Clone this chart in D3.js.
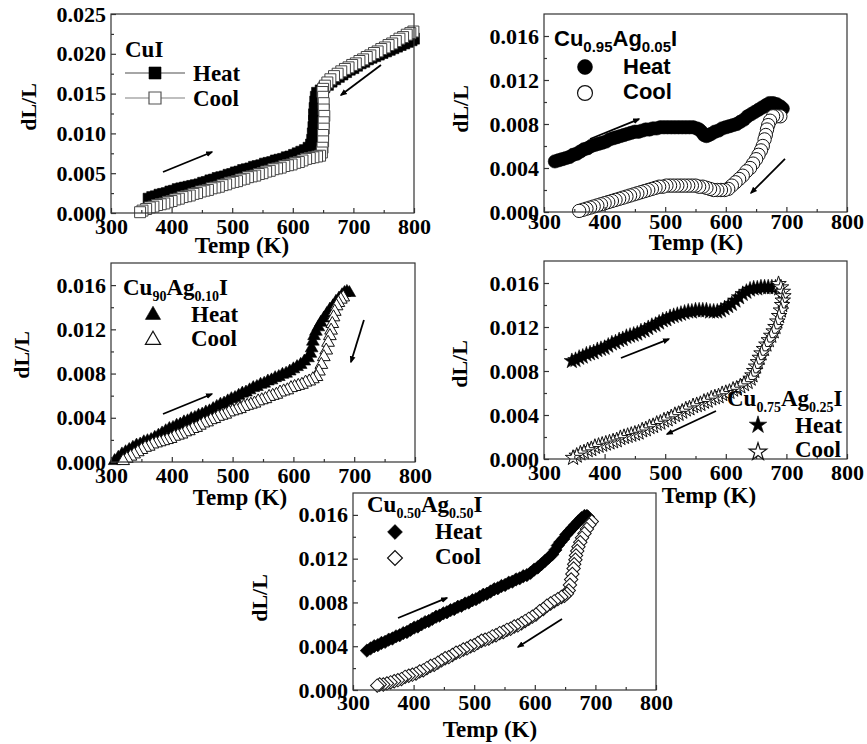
<!DOCTYPE html>
<html><head><meta charset="utf-8">
<script src="https://cdn.jsdelivr.net/npm/d3@7"></script>
<style>
html,body{margin:0;padding:0;background:#fff;}
svg{display:block;}
</style></head><body>
<svg id="fig" width="867" height="744"></svg>
<script>
// ---- data: [Temp (K), dL/L] ----
const tempTicks = [300,400,500,600,700,800];
const tempMinor = [350,450,550,650,750];
const cuiTicks  = [0,0.005,0.010,0.015,0.020,0.025];
const cuiMinor  = [0.0025,0.0075,0.0125,0.0175,0.0225];
const agTicks   = [0,0.004,0.008,0.012,0.016];
const agMinor   = [0.002,0.006,0.010,0.014];

const cuiHeat = [[362,.0018],[368,.0020],[374,.0021],[380,.0023],[386,.0024],[392,.0025],[398,.0027],[404,.0028],[410,.0030],[416,.0031],[422,.0032],[428,.0033],[434,.0034],[440,.0035],[446,.0036],[452,.0038],[458,.0039],[464,.0041],[470,.0042],[476,.0044],[482,.0045],[488,.0046],[494,.0048],[500,.0049],[506,.0051],[512,.0052],[518,.0054],[524,.0055],[530,.0056],[536,.0058],[542,.0059],[548,.0060],[554,.0062],[560,.0063],[566,.0064],[572,.0066],[578,.0067],[584,.0068],[590,.0070],[596,.0071],[602,.0073],[608,.0075],[614,.0077],[620,.0079],[626,.0082],[630,.0086],[632,.0092],[633,.0100],[634,.0108],[635,.0116],[635,.0124],[636,.0132],[637,.0140],[638,.0146],[640,.0151],[646,.0154],[652,.0158],[658,.0161],[664,.0165],[670,.0168],[676,.0171],[682,.0174],[688,.0177],[694,.0180],[700,.0182],[706,.0185],[712,.0188],[718,.0190],[724,.0193],[730,.0195],[736,.0197],[742,.0199],[748,.0201],[754,.0203],[760,.0205],[766,.0207],[772,.0209],[778,.0211],[784,.0213],[790,.0215],[796,.0217],[800,.0219]];
const cuiCool = [[799,.0228],[794,.0226],[788,.0224],[782,.0221],[776,.0219],[770,.0216],[764,.0213],[758,.0211],[752,.0208],[746,.0206],[740,.0203],[734,.0201],[728,.0198],[722,.0196],[716,.0193],[710,.0191],[704,.0188],[698,.0186],[692,.0183],[686,.0181],[680,.0178],[674,.0175],[668,.0172],[662,.0168],[657,.0164],[653,.0160],[650,.0156],[649,.0152],[650,.0146],[651,.0138],[651,.0130],[652,.0122],[651,.0114],[651,.0106],[650,.0098],[650,.0090],[649,.0082],[648,.0076],[645,.0072],[640,.0071],[634,.0070],[628,.0069],[622,.0068],[616,.0066],[610,.0064],[604,.0063],[598,.0061],[592,.0060],[586,.0059],[580,.0057],[574,.0056],[568,.0055],[562,.0053],[556,.0052],[550,.0050],[544,.0049],[538,.0047],[532,.0046],[526,.0045],[520,.0043],[514,.0042],[508,.0040],[502,.0039],[496,.0038],[490,.0036],[484,.0035],[478,.0033],[472,.0032],[466,.0031],[460,.0029],[454,.0028],[448,.0027],[442,.0025],[436,.0024],[430,.0022],[424,.0021],[418,.0020],[412,.0018],[406,.0017],[400,.0015],[394,.0014],[388,.0012],[382,.0011],[376,.0010],[370,.0008],[364,.0007],[358,.0005],[352,.0003],[348,.0001]];

const ag05Heat = [[318,.0046],[324,.0047],[330,.0048],[336,.0049],[342,.0050],[348,.0052],[354,.0053],[360,.0055],[366,.0057],[372,.0058],[378,.0060],[384,.0061],[390,.0062],[396,.0063],[402,.0064],[408,.0066],[414,.0067],[420,.0068],[426,.0069],[432,.0070],[438,.0071],[444,.0072],[450,.0073],[456,.0073],[462,.0074],[468,.0075],[474,.0075],[480,.0076],[486,.0076],[492,.0077],[498,.0077],[504,.0077],[510,.0077],[516,.0077],[522,.0077],[528,.0077],[534,.0077],[540,.0077],[546,.0077],[552,.0076],[556,.0075],[560,.0073],[564,.0070],[568,.0069],[572,.0070],[576,.0071],[582,.0073],[588,.0074],[594,.0076],[600,.0077],[606,.0078],[612,.0079],[618,.0080],[624,.0082],[630,.0084],[636,.0087],[642,.0089],[648,.0091],[654,.0093],[660,.0095],[666,.0097],[672,.0099],[678,.0099],[684,.0098],[690,.0096],[694,.0094]];
const ag05Cool = [[690,.0087],[684,.0087],[678,.0087],[673,.0083],[670,.0079],[668,.0075],[666,.0070],[664,.0066],[661,.0060],[658,.0056],[654,.0052],[650,.0048],[645,.0044],[640,.0040],[634,.0037],[628,.0033],[622,.0030],[616,.0027],[610,.0024],[604,.0021],[598,.0020],[592,.0020],[586,.0020],[580,.0020],[574,.0021],[568,.0022],[562,.0023],[556,.0023],[550,.0024],[544,.0024],[538,.0024],[532,.0024],[526,.0024],[520,.0024],[514,.0024],[508,.0024],[502,.0024],[496,.0023],[490,.0023],[484,.0022],[478,.0021],[472,.0020],[466,.0019],[460,.0018],[454,.0017],[448,.0016],[442,.0015],[436,.0014],[430,.0013],[424,.0012],[418,.0011],[412,.0010],[406,.0009],[400,.0008],[394,.0007],[388,.0006],[382,.0005],[376,.0004],[370,.0003],[364,.0002],[358,.0001]];

const ag10Heat = [[306,.0001],[312,.0004],[318,.0007],[324,.0009],[330,.0011],[336,.0013],[342,.0015],[348,.0016],[354,.0018],[360,.0019],[366,.0020],[372,.0022],[378,.0024],[384,.0026],[390,.0028],[396,.0030],[402,.0031],[408,.0033],[414,.0034],[420,.0036],[426,.0037],[432,.0039],[438,.0040],[444,.0042],[450,.0043],[456,.0045],[462,.0046],[468,.0048],[474,.0050],[480,.0052],[486,.0053],[492,.0055],[498,.0057],[504,.0058],[510,.0060],[516,.0062],[522,.0063],[528,.0065],[534,.0067],[540,.0068],[546,.0070],[552,.0071],[558,.0073],[564,.0074],[570,.0076],[576,.0077],[582,.0079],[588,.0080],[594,.0082],[600,.0084],[606,.0086],[612,.0088],[618,.0091],[624,.0094],[628,.0098],[630,.0103],[632,.0109],[634,.0114],[637,.0118],[641,.0122],[645,.0126],[650,.0130],[655,.0134],[660,.0138],[665,.0141],[670,.0145],[675,.0148],[680,.0151],[684,.0153],[688,.0154],[692,.0153]];
const ag10Cool = [[682,.0149],[678,.0147],[674,.0144],[671,.0141],[668,.0136],[666,.0131],[664,.0125],[662,.0119],[660,.0114],[657,.0108],[654,.0101],[650,.0095],[646,.0088],[642,.0082],[638,.0077],[632,.0075],[626,.0073],[620,.0072],[614,.0070],[608,.0069],[602,.0068],[596,.0067],[590,.0065],[584,.0064],[578,.0063],[572,.0061],[566,.0060],[560,.0059],[554,.0057],[548,.0056],[542,.0055],[536,.0053],[530,.0052],[524,.0051],[518,.0050],[512,.0048],[506,.0047],[500,.0046],[494,.0045],[488,.0043],[482,.0042],[476,.0041],[470,.0039],[464,.0038],[458,.0036],[452,.0035],[446,.0033],[440,.0031],[434,.0030],[428,.0028],[422,.0027],[416,.0025],[410,.0024],[404,.0023],[398,.0021],[392,.0020],[386,.0019],[380,.0018],[374,.0017],[368,.0016],[362,.0014],[356,.0013],[350,.0011],[344,.0009],[338,.0007],[332,.0005],[326,.0003],[320,.0001]];

const ag25Heat = [[346,.0089],[352,.0090],[358,.0092],[364,.0093],[370,.0095],[376,.0096],[382,.0097],[388,.0099],[394,.0100],[400,.0101],[406,.0103],[412,.0105],[418,.0106],[424,.0108],[430,.0109],[436,.0111],[442,.0112],[448,.0113],[454,.0114],[460,.0116],[466,.0117],[472,.0119],[478,.0121],[484,.0122],[490,.0124],[496,.0126],[502,.0127],[508,.0129],[514,.0130],[520,.0131],[526,.0132],[532,.0133],[538,.0134],[544,.0134],[550,.0135],[556,.0135],[562,.0135],[568,.0135],[574,.0134],[580,.0134],[586,.0134],[592,.0135],[598,.0137],[604,.0139],[610,.0141],[616,.0144],[622,.0147],[628,.0150],[634,.0152],[640,.0154],[646,.0155],[652,.0155],[658,.0156],[664,.0156],[670,.0156],[676,.0156],[682,.0156],[688,.0155]];
const ag25Cool = [[687,.0159],[691,.0156],[694,.0152],[695,.0148],[694,.0144],[693,.0140],[691,.0135],[688,.0130],[685,.0125],[682,.0120],[679,.0116],[675,.0112],[671,.0108],[667,.0104],[663,.0100],[659,.0096],[656,.0092],[653,.0088],[650,.0084],[647,.0080],[644,.0076],[641,.0073],[636,.0070],[630,.0068],[624,.0066],[618,.0064],[612,.0063],[606,.0061],[600,.0060],[594,.0059],[588,.0057],[582,.0056],[576,.0055],[570,.0053],[564,.0052],[558,.0050],[552,.0049],[546,.0048],[540,.0046],[534,.0045],[528,.0043],[522,.0041],[516,.0040],[510,.0038],[504,.0036],[498,.0035],[492,.0033],[486,.0032],[480,.0030],[474,.0029],[468,.0027],[462,.0026],[456,.0024],[450,.0023],[444,.0022],[438,.0021],[432,.0020],[426,.0019],[420,.0017],[414,.0016],[408,.0015],[402,.0014],[396,.0013],[390,.0012],[384,.0011],[378,.0009],[372,.0008],[366,.0006],[360,.0005],[354,.0003],[348,.0001]];

const ag50Heat = [[323,.0036],[329,.0038],[335,.0040],[341,.0041],[347,.0043],[353,.0044],[359,.0046],[365,.0047],[371,.0049],[377,.0050],[383,.0052],[389,.0053],[395,.0055],[401,.0057],[407,.0058],[413,.0060],[419,.0062],[425,.0063],[431,.0065],[437,.0067],[443,.0068],[449,.0070],[455,.0071],[461,.0073],[467,.0074],[473,.0076],[479,.0077],[485,.0079],[491,.0080],[497,.0082],[503,.0083],[509,.0085],[515,.0087],[521,.0088],[527,.0090],[533,.0092],[539,.0093],[545,.0095],[551,.0096],[557,.0098],[563,.0099],[569,.0101],[575,.0102],[581,.0104],[587,.0105],[593,.0107],[599,.0110],[605,.0112],[611,.0115],[617,.0118],[623,.0121],[629,.0124],[634,.0128],[638,.0132],[642,.0135],[647,.0138],[652,.0142],[657,.0145],[662,.0148],[667,.0151],[672,.0154],[677,.0157],[682,.0159],[686,.0159],[688,.0158]];
const ag50Cool = [[694,.0154],[690,.0151],[686,.0147],[682,.0143],[678,.0139],[675,.0135],[672,.0131],[670,.0127],[668,.0123],[667,.0119],[665,.0115],[664,.0111],[662,.0106],[660,.0101],[658,.0096],[656,.0091],[653,.0088],[649,.0086],[644,.0085],[638,.0083],[632,.0081],[626,.0079],[620,.0077],[614,.0074],[608,.0072],[602,.0069],[596,.0067],[590,.0065],[584,.0063],[578,.0061],[572,.0059],[566,.0058],[560,.0056],[554,.0055],[548,.0053],[542,.0052],[536,.0050],[530,.0049],[524,.0047],[518,.0046],[512,.0045],[506,.0043],[500,.0041],[494,.0040],[488,.0038],[482,.0037],[476,.0035],[470,.0034],[464,.0032],[458,.0030],[452,.0029],[446,.0027],[440,.0025],[434,.0023],[428,.0022],[422,.0020],[416,.0018],[410,.0017],[404,.0015],[398,.0014],[392,.0013],[386,.0012],[380,.0010],[374,.0009],[368,.0008],[362,.0007],[356,.0006],[350,.0005],[344,.0005],[340,.0004]];

// ---- layout / styling per panel ----
const SERIF = '"Liberation Serif","Times New Roman",Times,serif';
const SANS  = '"Liberation Sans",Arial,Helvetica,sans-serif';

const panels = [
  { box:[111,14,414,213], yMax:0.025, yTicks:cuiTicks, yMinor:cuiMinor, heat:cuiHeat, cool:cuiCool,
    sym:'square', size:120, legSize:144, withLine:true, xPad:5,
    yTitle:[28,107], xTitle:[242,253],
    label:{x:125,y:57,parts:[['CuI',0]]}, legX:155, legTextX:193, legY:[73,98], legBase:[81,106],
    arrows:[[[385.8,.00515],[466.7,.00766]],[[745.5,.01859],[679.5,.01482]]] },
  { box:[544,14,847,212], yMax:0.018, yTicks:agTicks, yMinor:agMinor, heat:ag05Heat, cool:ag05Cool,
    sym:'circle', size:140, legSize:175, sans:true, xPad:1,
    yTitle:[460,109], xTitle:[696,250],
    label:{x:554,y:46,parts:[['Cu',0],['0.95',1],['Ag',0],['0.05',1],['I',0]]}, legX:585, legTextX:623, legY:[67,93], legBase:[74,99],
    arrows:[[[375.9,.00664],[456.8,.00845]],[[697.7,.00482],[641.6,.00173]]] },
  { box:[111,263,415,462], yMax:0.018, yTicks:agTicks, yMinor:agMinor, heat:ag10Heat, cool:ag10Cool,
    sym:'triangle', size:70, legSize:100, xPad:5,
    yTitle:[21,355], xTitle:[240,505],
    label:{x:123,y:295,parts:[['Cu',0],['90',1],['Ag',0],['0.10',1],['I',0]]}, legX:153, legTextX:191, legY:[315,340], legBase:[322,346],
    arrows:[[[385.5,.00434],[466,.00615]],[[716,.01284],[694.7,.00904]]] },
  { box:[544,261,847,459], yMax:0.018, yTicks:agTicks, yMinor:agMinor, heat:ag25Heat, cool:ag25Cool,
    sym:'star', size:75, legSize:95, xPad:5,
    yTitle:[459,364], xTitle:[709,503],
    label:{x:727,y:406,parts:[['Cu',0],['0.75',1],['Ag',0],['0.25',1],['I',0]]}, legX:758, legTextX:795, legY:[425,452], legBase:[433,457],
    arrows:[[[427,.00918],[506,.0109]],[[583.8,.00436],[503,.00227]]] },
  { box:[353,493,656,690], yMax:0.018, yTicks:agTicks, yMinor:agMinor, heat:ag50Heat, cool:ag50Cool,
    sym:'diamond', size:90, legSize:110, xPad:4,
    yTitle:[259,598], xTitle:[490,737],
    label:{x:367,y:512,parts:[['Cu',0],['0.50',1],['Ag',0],['0.50',1],['I',0]]}, legX:395, legTextX:435, legY:[532,558], legBase:[539,564],
    arrows:[[[374.3,.00658],[455.1,.00841]],[[644.9,.00649],[572.3,.00393]]] }
];

const svg = d3.select('#fig');
svg.append('rect').attr('width',867).attr('height',744).attr('fill','#fff');
svg.append('defs').append('marker')
  .attr('id','ah').attr('viewBox','0 0 10 10').attr('refX',8).attr('refY',5)
  .attr('markerWidth',4).attr('markerHeight',4).attr('orient','auto')
  .append('path').attr('d','M0,1L10,5L0,9Z').attr('fill','#000');

const symTypes = {square:d3.symbolSquare, circle:d3.symbolCircle, triangle:d3.symbolTriangle, star:d3.symbolStar, diamond:d3.symbolSquare};
function symbolPath(kind, size){ return d3.symbol().type(symTypes[kind]).size(size)(); }
function symRot(kind){ return kind==='diamond' ? ' rotate(45)' : ''; }

function txt(sel, size, sans){
  return sel.attr('font-family', sans ? SANS : SERIF).attr('font-weight','bold')
    .attr('font-size', size).attr('fill','#000');
}

function drawMarkers(g, data, p, x, y, filled){
  g.append('g').selectAll('path').data(data).join('path')
    .attr('d', symbolPath(p.sym, p.size))
    .attr('transform', d=>`translate(${x(d[0])},${y(d[1])})${symRot(p.sym)}`)
    .attr('fill', filled ? '#000' : '#fff')
    .attr('stroke', filled ? '#000' : (p.withLine ? '#444' : '#111'))
    .attr('stroke-width', filled ? 0.6 : 1);
}

function drawPanel(p){
  const [x0,y0,x1,y1] = p.box;
  const g = svg.append('g');
  const x = d3.scaleLinear().domain([300,800]).range([x0,x1]);
  const y = d3.scaleLinear().domain([0,p.yMax]).range([y1,y0]);

  if(p.withLine){
    const line = d3.line().x(d=>x(d[0])).y(d=>y(d[1]));
    g.append('path').datum(p.heat).attr('d',line).attr('fill','none').attr('stroke','#888').attr('stroke-width',1);
    g.append('path').datum(p.cool).attr('d',line).attr('fill','none').attr('stroke','#aaa').attr('stroke-width',1);
  }
  drawMarkers(g, p.heat, p, x, y, true);
  drawMarkers(g, p.cool, p, x, y, false);

  // frame
  g.append('rect').attr('x',x0).attr('y',y0).attr('width',x1-x0).attr('height',y1-y0)
    .attr('fill','none').attr('stroke','#333').attr('stroke-width',1.2);

  // axes (inward ticks, bottom + left only)
  const ax = g.append('g').attr('transform',`translate(0,${y1})`)
    .call(d3.axisBottom(x).tickValues(tempTicks).tickSize(-5).tickPadding(p.xPad).tickFormat(d3.format('d')));
  const axm = g.append('g').attr('transform',`translate(0,${y1})`)
    .call(d3.axisBottom(x).tickValues(tempMinor).tickSize(-3).tickFormat(''));
  const ay = g.append('g').attr('transform',`translate(${x0},0)`)
    .call(d3.axisLeft(y).tickValues(p.yTicks).tickSize(-5).tickPadding(5).tickFormat(d3.format('.3f')));
  const aym = g.append('g').attr('transform',`translate(${x0},0)`)
    .call(d3.axisLeft(y).tickValues(p.yMinor).tickSize(-3).tickFormat(''));
  [ax,axm,ay,aym].forEach(a=>{
    a.attr('font-family',SERIF);
    a.select('.domain').remove();
    a.selectAll('line').attr('stroke','#333').attr('stroke-width',1.2);
    txt(a.selectAll('text'), 22);
  });

  // axis titles
  txt(g.append('text'), 22).attr('transform',`translate(${p.yTitle[0]},${p.yTitle[1]}) rotate(-90)`)
    .attr('text-anchor','middle').attr('dy','0.35em').text('dL/L');
  txt(g.append('text'), 23).attr('x',p.xTitle[0]).attr('y',p.xTitle[1]).attr('text-anchor','middle')
    .text('Temp (K)');

  // arrows
  p.arrows.forEach(a=>{
    g.append('line').attr('x1',x(a[0][0])).attr('y1',y(a[0][1])).attr('x2',x(a[1][0])).attr('y2',y(a[1][1]))
      .attr('stroke','#000').attr('stroke-width',1.8).attr('marker-end','url(#ah)');
  });

  // legend
  const big = p.sans ? 22 : 23, small = p.sans ? 15 : 14;
  const t = txt(g.append('text'), big, p.sans).attr('x',p.label.x).attr('y',p.label.y);
  let down = false;
  p.label.parts.forEach(([s,sub])=>{
    const dy = sub ? (down ? 0 : 6) : (down ? -6 : 0);
    down = !!sub;
    t.append('tspan').attr('dy',dy).attr('font-size', sub ? small : big).text(s);
  });
  ['Heat','Cool'].forEach((name,i)=>{
    const cy = p.legY[i];
    if(p.withLine){
      g.append('line').attr('x1',p.legX-30).attr('x2',p.legX+30).attr('y1',cy).attr('y2',cy)
        .attr('stroke', i ? '#aaa' : '#888').attr('stroke-width',1.5);
    }
    g.append('path').attr('d',symbolPath(p.sym,p.legSize))
      .attr('transform',`translate(${p.legX},${cy})${symRot(p.sym)}`)
      .attr('fill', i ? '#fff' : '#000').attr('stroke', i ? (p.withLine ? '#555' : '#111') : '#000')
      .attr('stroke-width', i ? 1.2 : 0.6);
    txt(g.append('text'), p.sans ? 22 : 23, p.sans).attr('x',p.legTextX).attr('y',p.legBase[i]).text(name);
  });
}

panels.forEach(drawPanel);
</script>
</body></html>
